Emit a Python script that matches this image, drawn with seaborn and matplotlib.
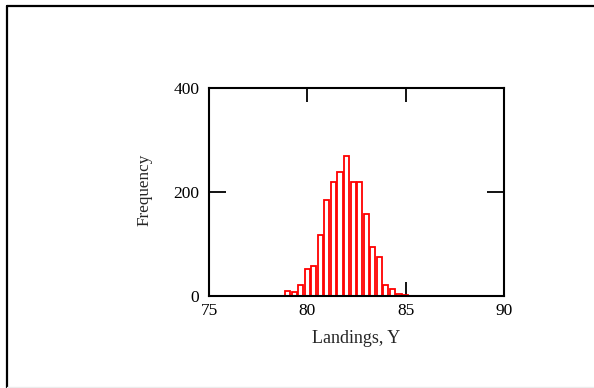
import numpy as np
import pandas as pd
import matplotlib
matplotlib.use("Agg")
import matplotlib.pyplot as plt
from matplotlib.lines import Line2D
import seaborn as sns

# Simulated landings: bin centres (width 1/3) and counts
bin_centers = [79.0, 79.333, 79.667, 80.0, 80.333, 80.667, 81.0, 81.333, 81.667, 82.0,
               82.333, 82.667, 83.0, 83.333, 83.667, 84.0, 84.333, 84.667, 85.0]
counts = [10, 7, 21, 51, 58, 117, 185, 218, 239, 269,
          219, 219, 158, 95, 74, 21, 13, 4, 2]
x_ticks = [75, 80, 85, 90]
y_ticks = [0, 200, 400]

bin_width = 1 / 3
lo = bin_centers[0] - bin_width / 2
hi = bin_centers[-1] + bin_width / 2

df = pd.DataFrame({"landings": bin_centers, "freq": counts})

sns.set_style("white")
plt.rcParams["font.family"] = ["Liberation Serif", "DejaVu Serif"]

fig = plt.figure(figsize=(5.94, 3.88), dpi=100)
ax = fig.add_axes([0.352, 0.237, 0.496, 0.537])

sns.histplot(data=df, x="landings", weights="freq", binwidth=bin_width,
             binrange=(lo, hi), shrink=0.78,
             fill=True, color="white", edgecolor="#ff0000", linewidth=1.3,
             alpha=1, ax=ax)

ax.set_xlim(75, 90)
ax.set_ylim(0, 400)
ax.set_xticks(x_ticks)
ax.set_yticks(y_ticks)
ax.set_xticklabels([str(t) for t in x_ticks])
ax.set_yticklabels([str(t) for t in y_ticks])

for s in ax.spines.values():
    s.set_visible(True)
    s.set_color("black")
    s.set_linewidth(1.5)

ax.tick_params(axis="x", direction="in", length=10, width=1.3, colors="black",
               top=True, bottom=True, labelsize=12.5, pad=5, labelcolor="black")
ax.tick_params(axis="y", direction="in", length=12.5, width=1.3, colors="black",
               left=True, right=True, labelsize=12.5, pad=7, labelcolor="black")

ax.set_xlabel("Landings, Y", fontsize=13)
ax.set_ylabel("Frequency", fontsize=12.3)
ax.xaxis.set_label_coords(0.5, -0.165)
ax.yaxis.set_label_coords(-0.193, 0.51)

# Surrounding frame (left and top edges)
fig.add_artist(Line2D([7 / 594, 7 / 594], [1 - 6 / 388, 0], color="black",
                      lw=1.6, transform=fig.transFigure))
fig.add_artist(Line2D([7 / 594, 1], [1 - 6 / 388, 1 - 6 / 388], color="black",
                      lw=1.6, transform=fig.transFigure))
fig.add_artist(Line2D([7 / 594, 1], [1.5 / 388, 1.5 / 388], color="#ececec",
                      lw=1.0, transform=fig.transFigure))

fig.savefig("out.png", dpi=100)
